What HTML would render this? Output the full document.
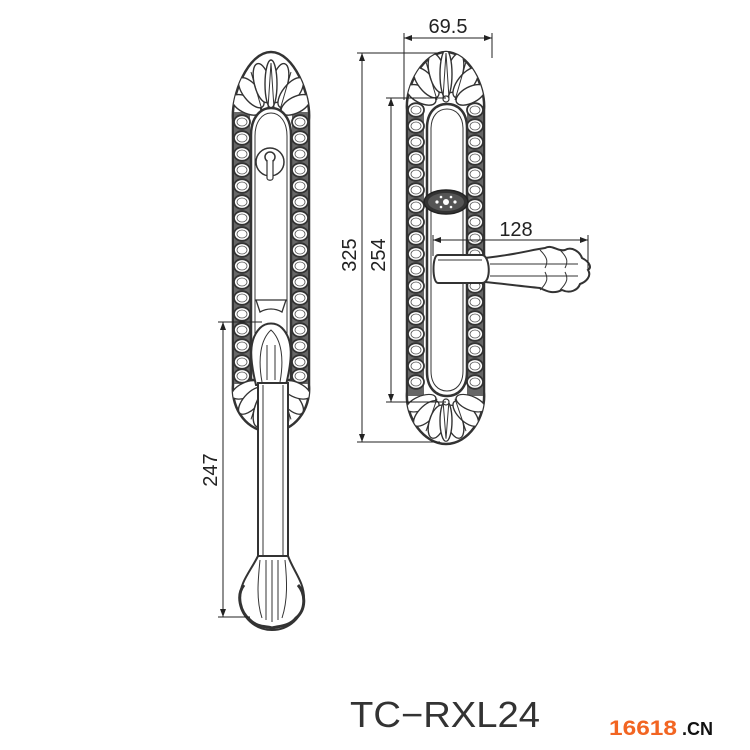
<!DOCTYPE html>
<html><head><meta charset="utf-8"><style>
html,body{margin:0;padding:0;background:#fff;width:750px;height:750px;overflow:hidden}
svg{display:block}
</style></head><body>
<svg width="750" height="750" viewBox="0 0 750 750" xmlns="http://www.w3.org/2000/svg">
<defs>
<g id="sc"><ellipse rx="8" ry="6.8" fill="#fff" stroke="#333" stroke-width="1.8"/><ellipse rx="5" ry="4" fill="#fff" stroke="#555" stroke-width="0.8"/></g>
<g id="petals" fill="#fff" stroke="#333" stroke-width="1.4">
 <ellipse rx="8" ry="16" transform="rotate(-62) translate(0,-28)"/>
 <ellipse rx="8" ry="18" transform="rotate(-38) translate(0,-32)"/>
 <ellipse rx="8" ry="20" transform="rotate(-14) translate(0,-36)"/>
 <ellipse rx="8" ry="20" transform="rotate(14) translate(0,-36)"/>
 <ellipse rx="8" ry="18" transform="rotate(38) translate(0,-32)"/>
 <ellipse rx="8" ry="16" transform="rotate(62) translate(0,-28)"/>
 <ellipse rx="6" ry="24" transform="translate(0,-34)"/>
 <path d="M-3,-10 L0,-55 L3,-10 M-9,-8 L-20,-46 M9,-8 L20,-46" fill="none" stroke-width="1"/>
</g>
<clipPath id="cl"><path d="M233,120 C231,95 248,52 271,52 C294,52 311,95 309,120 L309,385 C311,410 294,432 271,432 C248,432 231,410 233,385 Z"/></clipPath>
<clipPath id="cr"><path d="M407,110 C405,85 424,52 446,52 C468,52 486,85 484,110 L484,392 C486,418 468,444 446,444 C424,444 405,418 407,392 Z"/></clipPath>
</defs>

<!-- LEFT PLATE -->
<path d="M233,120 C231,95 248,52 271,52 C294,52 311,95 309,120 L309,385 C311,410 294,432 271,432 C248,432 231,410 233,385 Z" fill="#fff" stroke="#333" stroke-width="2.5"/>
<rect x="234" y="112" width="16" height="272" fill="#666"/>
<rect x="292" y="112" width="16" height="272" fill="#666"/>
<g>
<use href="#sc" x="242" y="122"/><use href="#sc" x="242" y="138"/><use href="#sc" x="242" y="154"/><use href="#sc" x="242" y="170"/><use href="#sc" x="242" y="186"/><use href="#sc" x="242" y="202"/><use href="#sc" x="242" y="218"/><use href="#sc" x="242" y="234"/><use href="#sc" x="242" y="250"/><use href="#sc" x="242" y="266"/><use href="#sc" x="242" y="282"/><use href="#sc" x="242" y="298"/><use href="#sc" x="242" y="314"/><use href="#sc" x="242" y="330"/><use href="#sc" x="242" y="346"/><use href="#sc" x="242" y="362"/><use href="#sc" x="242" y="376"/>
<use href="#sc" x="300" y="122"/><use href="#sc" x="300" y="138"/><use href="#sc" x="300" y="154"/><use href="#sc" x="300" y="170"/><use href="#sc" x="300" y="186"/><use href="#sc" x="300" y="202"/><use href="#sc" x="300" y="218"/><use href="#sc" x="300" y="234"/><use href="#sc" x="300" y="250"/><use href="#sc" x="300" y="266"/><use href="#sc" x="300" y="282"/><use href="#sc" x="300" y="298"/><use href="#sc" x="300" y="314"/><use href="#sc" x="300" y="330"/><use href="#sc" x="300" y="346"/><use href="#sc" x="300" y="362"/><use href="#sc" x="300" y="376"/>
</g>
<g clip-path="url(#cl)">
<use href="#petals" x="271" y="118"/>
<use href="#petals" transform="translate(271,378) scale(1,-0.9)"/>
</g>
<!-- slot -->
<path d="M251,135 C251,118 260,108 271,108 C282,108 291,118 291,135 L291,380 L251,380 Z" fill="#fff" stroke="#333" stroke-width="2.5"/>
<path d="M255,136 C255,122 262,113 271,113 C280,113 287,122 287,136 L287,380 L255,380 Z" fill="none" stroke="#333" stroke-width="1"/>
<circle cx="270" cy="162" r="14" fill="#fff" stroke="#333" stroke-width="1.5"/>
<circle cx="270" cy="157" r="5" fill="#fff" stroke="#333" stroke-width="1.5"/>
<path d="M267,160 L267,178 C267,181 273,181 273,178 L273,160" fill="#fff" stroke="#333" stroke-width="1.2"/>
<path d="M256,300 L286,300 L282,312 C275,308 267,308 260,312 Z" fill="#fff" stroke="#333" stroke-width="1.3"/>
<!-- handle neck -->
<path d="M256,385 C250,360 248,340 260,328 C266,322 276,322 282,328 C294,340 292,360 286,385 Z" fill="#fff" stroke="#333" stroke-width="2"/>
<path d="M262,382 C258,360 260,340 271,330 C282,340 284,360 280,382 M267,380 L267,345 M275,380 L275,345" fill="none" stroke="#333" stroke-width="1"/>
<!-- bar -->
<rect x="258" y="383" width="30" height="175" fill="#fff" stroke="#333" stroke-width="2"/>
<line x1="263" y1="385" x2="263" y2="556" stroke="#333" stroke-width="1"/>
<line x1="283" y1="385" x2="283" y2="556" stroke="#333" stroke-width="1"/>
<!-- base ornament -->
<path d="M258,556 C250,572 240,582 240,598 C240,618 256,630 272,630 C288,630 304,618 304,598 C304,582 294,572 288,556 Z" fill="#fff" stroke="#333" stroke-width="2"/>
<path d="M244,585 C236,595 240,612 250,620 C258,628 266,626 272,628 C280,626 290,626 296,618 C306,610 306,594 298,585" fill="none" stroke="#333" stroke-width="3"/>
<path d="M260,560 C258,580 256,600 262,618 M266,560 L266,620 M272,560 L272,622 M278,560 L278,620 M285,560 C287,580 288,600 282,618" fill="none" stroke="#333" stroke-width="1"/>

<!-- RIGHT PLATE -->
<path d="M407,110 C405,85 424,52 446,52 C468,52 486,85 484,110 L484,392 C486,418 468,444 446,444 C424,444 405,418 407,392 Z" fill="#fff" stroke="#333" stroke-width="2.5"/>
<rect x="408" y="106" width="16" height="290" fill="#666"/>
<rect x="467" y="106" width="16" height="290" fill="#666"/>
<g>
<use href="#sc" x="416" y="110"/><use href="#sc" x="416" y="126"/><use href="#sc" x="416" y="142"/><use href="#sc" x="416" y="158"/><use href="#sc" x="416" y="174"/><use href="#sc" x="416" y="190"/><use href="#sc" x="416" y="206"/><use href="#sc" x="416" y="222"/><use href="#sc" x="416" y="238"/><use href="#sc" x="416" y="254"/><use href="#sc" x="416" y="270"/><use href="#sc" x="416" y="286"/><use href="#sc" x="416" y="302"/><use href="#sc" x="416" y="318"/><use href="#sc" x="416" y="334"/><use href="#sc" x="416" y="350"/><use href="#sc" x="416" y="366"/><use href="#sc" x="416" y="382"/>
<use href="#sc" x="475" y="110"/><use href="#sc" x="475" y="126"/><use href="#sc" x="475" y="142"/><use href="#sc" x="475" y="158"/><use href="#sc" x="475" y="174"/><use href="#sc" x="475" y="190"/><use href="#sc" x="475" y="206"/><use href="#sc" x="475" y="222"/><use href="#sc" x="475" y="238"/><use href="#sc" x="475" y="254"/><use href="#sc" x="475" y="270"/><use href="#sc" x="475" y="286"/><use href="#sc" x="475" y="302"/><use href="#sc" x="475" y="318"/><use href="#sc" x="475" y="334"/><use href="#sc" x="475" y="350"/><use href="#sc" x="475" y="366"/><use href="#sc" x="475" y="382"/>
</g>
<g clip-path="url(#cr)">
<use href="#petals" x="446" y="108"/>
<use href="#petals" transform="translate(446,392) scale(1,-0.85)"/>
</g>
<path d="M427,128 C427,112 436,104 447,104 C458,104 467,112 467,128 L467,372 C467,388 458,396 447,396 C436,396 427,388 427,372 Z" fill="#fff" stroke="#333" stroke-width="2.5"/>
<path d="M431,129 C431,116 438,109 447,109 C456,109 463,116 463,129 L463,371 C463,384 456,391 447,391 C438,391 431,384 431,371 Z" fill="none" stroke="#333" stroke-width="1"/>
<circle cx="446" cy="99" r="3" fill="#fff" stroke="#333" stroke-width="1.2"/>
<circle cx="446" cy="402" r="3" fill="#fff" stroke="#333" stroke-width="1.2"/>
<ellipse cx="446" cy="202" rx="22" ry="12" fill="#333" stroke="#222" stroke-width="1.5"/>
<ellipse cx="446" cy="202" rx="18" ry="9" fill="#555"/>
<circle cx="446" cy="202" r="3" fill="#fff"/>
<circle cx="437" cy="202" r="1.6" fill="#fff"/><circle cx="455" cy="202" r="1.6" fill="#fff"/>
<circle cx="441" cy="197" r="1.3" fill="#fff"/><circle cx="451" cy="197" r="1.3" fill="#fff"/>
<circle cx="441" cy="207" r="1.3" fill="#fff"/><circle cx="451" cy="207" r="1.3" fill="#fff"/>
<!-- lever -->
<path d="M485,258 C520,254 530,250 545,248 C552,244 558,252 565,250 C572,246 580,252 582,258 C590,262 592,268 588,270 C592,276 586,282 580,284 C578,290 570,294 562,290 C554,294 548,292 540,288 C520,286 505,284 485,282 Z" fill="#fff" stroke="#333" stroke-width="2"/>
<path d="M490,264 L578,264 M490,276 L578,276 M540,250 C548,258 548,262 545,268 M560,250 C568,258 568,262 565,268 M540,290 C548,282 548,278 545,272 M560,290 C568,282 568,278 565,272" fill="none" stroke="#333" stroke-width="1"/>
<path d="M438,255 L482,255 C490,255 492,283 482,283 L438,283 C432,283 432,255 438,255 Z" fill="#fff" stroke="#333" stroke-width="2"/>
<line x1="438" y1="260" x2="482" y2="260" stroke="#333" stroke-width="1"/>

<!-- DIMENSIONS -->
<g stroke="#222" stroke-width="1" fill="none">
<line x1="404" y1="38" x2="492" y2="38"/><line x1="404" y1="33" x2="404" y2="100"/><line x1="492" y1="33" x2="492" y2="58"/>
<line x1="362" y1="53" x2="362" y2="442"/><line x1="357" y1="53" x2="440" y2="53"/><line x1="357" y1="442" x2="440" y2="442"/>
<line x1="391" y1="98" x2="391" y2="402"/><line x1="386" y1="98" x2="446" y2="98"/><line x1="386" y1="402" x2="446" y2="402"/>
<line x1="433" y1="240" x2="588" y2="240"/><line x1="433" y1="235" x2="433" y2="256"/><line x1="588" y1="235" x2="588" y2="270"/>
<line x1="223" y1="322" x2="223" y2="617"/><line x1="218" y1="322" x2="262" y2="322"/><line x1="218" y1="617" x2="250" y2="617"/>
</g>
<g fill="#222">
<path d="M404,38 l8,-3 v6z M492,38 l-8,-3 v6z"/>
<path d="M362,53 l-3,8 h6z M362,442 l-3,-8 h6z"/>
<path d="M391,98 l-3,8 h6z M391,402 l-3,-8 h6z"/>
<path d="M433,240 l8,-3 v6z M588,240 l-8,-3 v6z"/>
<path d="M223,322 l-3,8 h6z M223,617 l-3,-8 h6z"/>
</g>
<g font-family="Liberation Sans, sans-serif" font-size="20" fill="#222">
<text x="448" y="33" text-anchor="middle">69.5</text>
<text x="516" y="236" text-anchor="middle">128</text>
<text transform="translate(356,255) rotate(-90)" text-anchor="middle">325</text>
<text transform="translate(385,255) rotate(-90)" text-anchor="middle">254</text>
<text transform="translate(217,470) rotate(-90)" text-anchor="middle">247</text>
</g>
<text x="350" y="727" font-family="Liberation Sans, sans-serif" font-size="36" fill="#333" textLength="190" lengthAdjust="spacingAndGlyphs">TC−RXL24</text>
<text x="609" y="735" font-family="Liberation Sans, sans-serif" font-size="21" font-weight="bold" fill="#f26522" textLength="68" lengthAdjust="spacingAndGlyphs">16618</text>
<text x="682" y="735" font-family="Liberation Sans, sans-serif" font-size="18" font-weight="bold" fill="#111">.CN</text>
</svg>
</body></html>
